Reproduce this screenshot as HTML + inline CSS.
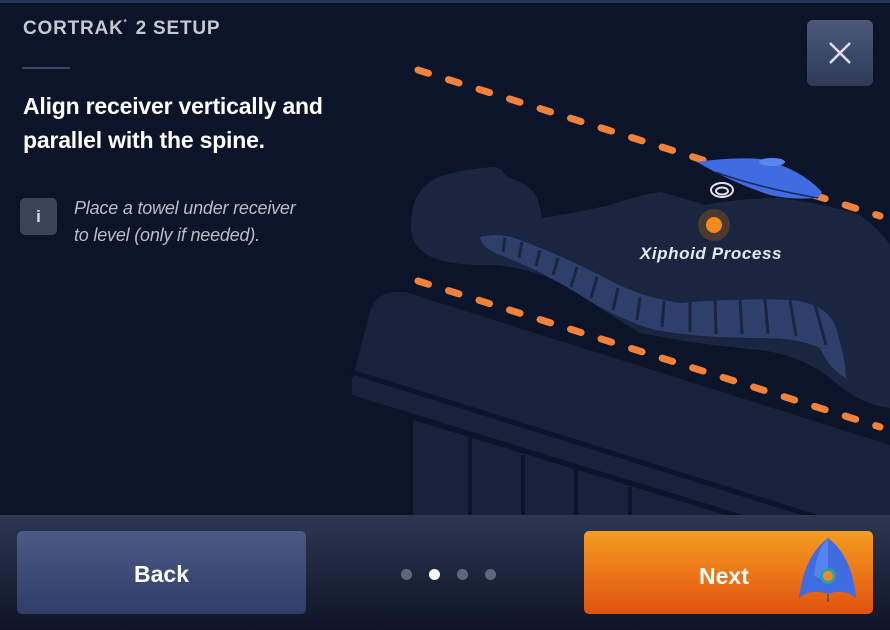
<!DOCTYPE html>
<html><head><meta charset="utf-8"><style>
*{margin:0;padding:0;box-sizing:border-box}
body{width:890px;height:630px;overflow:hidden;background:#0b1428;font-family:"Liberation Sans",sans-serif;position:relative}
.topbar{position:absolute;left:0;top:0;width:890px;height:3px;background:#26345a}
.title{position:absolute;left:23px;top:18px;color:#c4c8d2;font-size:19px;letter-spacing:0.8px;font-weight:bold}
.title sup{font-size:8px;vertical-align:9px;margin-right:2px}
.rule{position:absolute;left:22px;top:67px;width:48px;height:2px;background:#3a4560}
.head{position:absolute;left:23px;top:89px;color:#fff;font-size:23px;line-height:34px;font-weight:bold;letter-spacing:-0.2px}
.info{position:absolute;left:20px;top:198px;width:37px;height:37px;border-radius:5px;background:#3a4458;color:#d8dce4;font-weight:bold;font-size:17px;text-align:center;line-height:37px}
.note{position:absolute;left:74px;top:195px;color:#b9bdc8;font-style:italic;font-size:18px;line-height:27px;letter-spacing:-0.2px}
.close{position:absolute;left:807px;top:20px;width:66px;height:66px;border-radius:6px;background:linear-gradient(#4c5878,#2e3a58)}
.footer{position:absolute;left:0;top:515px;width:890px;height:115px;background:linear-gradient(#2c3752,#0e1526)}
.back{position:absolute;left:17px;top:531px;width:289px;height:83px;border-radius:5px;background:linear-gradient(#4b5a84,#2f3e68);color:#fff;font-size:23px;text-align:center;line-height:87px;font-weight:bold}
.next{position:absolute;left:584px;top:531px;width:289px;height:83px;border-radius:5px;background:linear-gradient(#f59c22,#e1520f);color:#fff;font-size:23px;line-height:90px;padding-left:115px;font-weight:bold}
.dot{position:absolute;top:569px;width:11px;height:11px;border-radius:50%;background:#606778}
</style></head><body>
<div class="topbar"></div>
<svg width="890" height="630" style="position:absolute;left:0;top:0">
  <path d="M392 292 Q372 295 368 320 L352 380 L352 395 L890 560 L890 445 L405 292 Z" fill="#18223b"/>
  <path d="M352 372 L890 540" stroke="#0b1428" stroke-width="5"/>
  <path d="M413 420 L890 565 L890 515 L413 515 Z" fill="#18223b"/>
  <g stroke="#0b1428" stroke-width="4"><line x1="470" y1="438" x2="470" y2="515"/><line x1="523" y1="455" x2="523" y2="515"/><line x1="576" y1="470" x2="576" y2="515"/><line x1="630" y1="487" x2="630" y2="515"/></g>
  <path d="M411 228 Q410 185 445 175 Q470 168 495 167 L502 170 Q505 177 515 180 Q532 186 538 200 L542 218 Q580 212 610 205 Q640 195 660 192 Q690 200 705 205 Q740 198 780 198 Q830 205 860 215 Q880 230 890 245 L890 408 Q860 405 830 378 Q800 355 760 350 Q700 345 640 333 Q610 315 580 295 Q545 270 495 265 Q470 266 448 262 Q412 255 411 228 Z" fill="#1a2540"/>
  <path d="M480 237 Q500 232 520 240 Q560 255 600 275 Q640 298 680 303 Q740 298 790 300 Q825 303 835 325 Q845 355 846 378 Q830 370 820 348 Q800 338 760 338 Q700 338 655 330 Q615 318 580 295 Q540 270 500 255 Q482 248 480 237 Z" fill="#2f3f6c"/>
  <g stroke="#1a2540" stroke-width="3">
    <line x1="505" y1="238" x2="503" y2="252"/><line x1="522" y1="242" x2="519" y2="258"/><line x1="540" y1="250" x2="536" y2="266"/><line x1="558" y1="258" x2="553" y2="275"/><line x1="577" y1="267" x2="571" y2="287"/><line x1="597" y1="277" x2="591" y2="298"/><line x1="618" y1="288" x2="613" y2="310"/><line x1="640" y1="297" x2="637" y2="320"/><line x1="664" y1="301" x2="662" y2="327"/><line x1="690" y1="302" x2="690" y2="332"/><line x1="715" y1="300" x2="716" y2="334"/><line x1="740" y1="299" x2="742" y2="334"/><line x1="765" y1="299" x2="768" y2="334"/><line x1="790" y1="300" x2="796" y2="336"/><line x1="815" y1="305" x2="826" y2="345"/>
  </g>
  <line x1="418" y1="70" x2="880" y2="216" stroke="#f2823a" stroke-width="7" stroke-linecap="round" stroke-dasharray="11 21"/>
  <line x1="418" y1="281" x2="880" y2="427" stroke="#f2823a" stroke-width="7" stroke-linecap="round" stroke-dasharray="11 21"/>
  <path d="M697 162 Q735 157 760 159 Q800 168 822 192 L818 198 Q790 200 770 195 Q740 185 715 172 Z" fill="#3f6ce0"/>
  <path d="M715 172 Q760 188 818 198" stroke="#1b2a60" stroke-width="1.5" fill="none"/>
  <ellipse cx="772" cy="162" rx="13" ry="4" fill="#5b86f0"/>
  <ellipse cx="722" cy="190" rx="11" ry="7" fill="none" stroke="#dfe3ea" stroke-width="2"/>
  <ellipse cx="722" cy="191" rx="6" ry="3.5" fill="none" stroke="#dfe3ea" stroke-width="2"/>
  <circle cx="714" cy="225" r="16" fill="#4a3a30"/>
  <circle cx="714" cy="225" r="8" fill="#f7891f"/>
  <text x="711" y="259" fill="#e6e8ee" font-size="17" font-style="italic" font-weight="bold" text-anchor="middle" font-family="Liberation Sans,sans-serif" letter-spacing="0.6">Xiphoid Process</text>
</svg>
<div class="title">CORTRAK<sup>*</sup> 2 SETUP</div>
<div class="rule"></div>
<div class="head">Align receiver vertically and<br>parallel with the spine.</div>
<div class="info">i</div>
<div class="note">Place a towel under receiver<br>to level (only if needed).</div>
<div class="close"><svg width="66" height="66"><g stroke="#dde1ea" stroke-width="2.5"><line x1="23" y1="23" x2="43" y2="43"/><line x1="43" y1="23" x2="23" y2="43"/></g></svg></div>
<div class="footer"></div>
<div class="back">Back</div>
<div class="next">Next</div>
<svg width="60" height="80" style="position:absolute;left:796px;top:536px">
  <path d="M32 2 Q8 20 3 62 Q15 52 32 58 Q48 52 60 62 Q56 20 32 2 Z" fill="#3f6ce0"/>
  <path d="M32 2 Q20 15 18 40 L32 45 Z" fill="#5583f0"/>
  <circle cx="32" cy="40" r="8" fill="#2aa0a0"/>
  <circle cx="32" cy="40" r="5" fill="#f08a30"/>
  <line x1="32" y1="58" x2="32" y2="66" stroke="#555" stroke-width="1.5"/>
</svg>
<div class="dot" style="left:401px"></div>
<div class="dot" style="left:429px;background:#fff"></div>
<div class="dot" style="left:457px"></div>
<div class="dot" style="left:485px"></div>
</body></html>
